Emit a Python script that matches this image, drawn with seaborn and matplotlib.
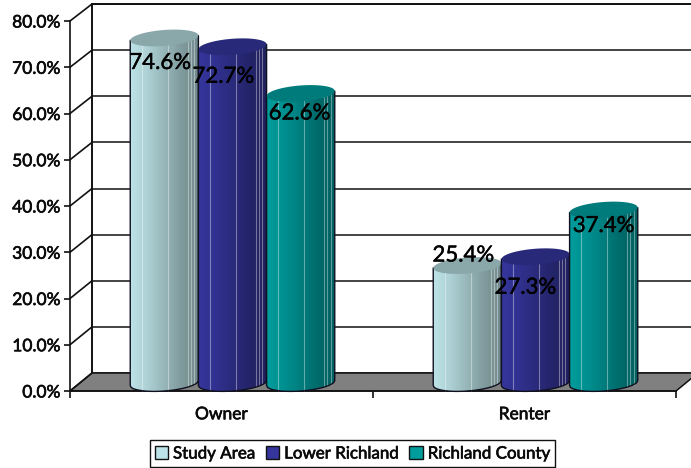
import numpy as np
import pandas as pd
import matplotlib
matplotlib.use("Agg")
import matplotlib.pyplot as plt
import matplotlib.patheffects as pe
import seaborn as sns
from matplotlib.colors import LinearSegmentedColormap, to_rgb
from matplotlib.patches import ConnectionPatch, Polygon, Rectangle
from matplotlib.path import Path
from matplotlib.ticker import FuncFormatter

# Housing tenure shares, in percent
tenure = ["Owner", "Renter"]
areas = ["Study Area", "Lower Richland", "Richland County"]
study_area = [74.6, 25.4]
lower_richland = [72.7, 27.3]
richland_county = [62.6, 37.4]

colors = ["#BCE3E7", "#35359C", "#009C9C"]
cap_colors = ["#8AA7AA", "#29297A", "#007B7B"]

# Pixel nudges of the value labels relative to each column's top centre,
# ordered by series, then tenure
label_nudges = [(-4, -25), (-4, 10), (-9, -30), (-10, -31), (-1, -20), (0, -16)]

W, H = 691, 468
sns.set_theme(style="white")
plt.rcParams["font.family"] = ["Lato", "DejaVu Sans"]

fig = plt.figure(figsize=(W / 100, H / 100), dpi=100, facecolor="white")
HEAVY = [pe.withStroke(linewidth=0.45, foreground="#0A0A0A")]


def axes_px(left, top, right, bottom):
    return fig.add_axes([left / W, 1 - bottom / H, (right - left) / W, (bottom - top) / H])


# Back wall, front scale and the plane through the column axes
back = axes_px(92, 4, 698, 373)
front = axes_px(70, 21, 676, 391)
plane = axes_px(81, 13, 687, 383)
back.set_zorder(0)
front.set_zorder(2)
plane.set_zorder(3)
LINE = "#111111"

for ax in (back, front, plane):
    ax.set_xlim(-0.5, 1.5)
    ax.set_ylim(0, 80)

back.set_xticks([])
back.set_yticks(np.arange(0, 81, 10))
back.tick_params(left=False, labelleft=False)
back.grid(axis="y", color=LINE, lw=1.1)
for side, spine in back.spines.items():
    spine.set_visible(side in ("left", "top"))
    spine.set_color(LINE)
    spine.set_linewidth(1.4)

front.patch.set_alpha(0)
for side, spine in front.spines.items():
    spine.set_visible(side in ("left", "bottom"))
    spine.set_color(LINE)
    spine.set_linewidth(1.2)
front.set_yticks(np.arange(0, 81, 10))
front.yaxis.set_major_formatter(FuncFormatter(lambda v, _: f"{v:.1f}%"))
front.set_xticks([0, 1], tenure)
front.set_xticks([-0.5, 0.5, 1.5], minor=True)
front.tick_params(axis="y", left=True, length=4, width=1.2, color=LINE, pad=3,
                  labelsize=12.5, labelcolor="#0A0A0A")
front.tick_params(axis="x", which="major", bottom=False, pad=5, labelsize=12.5,
                  labelcolor="#0A0A0A")
front.tick_params(axis="x", which="minor", bottom=True, length=5, width=1.2, color=LINE)
for label in front.get_xticklabels() + front.get_yticklabels():
    label.set_path_effects(HEAVY)

# Grey floor between the front axis and the back wall
fp, bp = front.get_position(), back.get_position()
fig.add_artist(Polygon([(fp.x0, fp.y0), (bp.x0, bp.y0), (bp.x1, bp.y0), (fp.x1, fp.y0)],
                       closed=True, transform=fig.transFigure, facecolor="#808080",
                       edgecolor=LINE, lw=1.1, zorder=1))

# Slanted ticks joining the scale to the wall
for v in np.arange(0, 81, 10):
    fig.add_artist(ConnectionPatch(xyA=(0, v), coordsA=front.get_yaxis_transform(),
                                   xyB=(0, v), coordsB=back.get_yaxis_transform(),
                                   color=LINE, lw=1.2, zorder=1.5))

frame = pd.DataFrame({
    "tenure": tenure * 3,
    "area": np.repeat(areas, 2),
    "share": study_area + lower_richland + richland_county,
})
sns.barplot(data=frame, x="tenure", y="share", hue="area", hue_order=areas,
            palette=colors, width=0.675, gap=0, saturation=1, legend=False, ax=plane)
plane.set_xlim(-0.5, 1.5)
plane.set_ylim(0, 80)
plane.axis("off")

PX = 80 / 370
ELL = 8 * PX
TILT = 2.5 * PX
RIBS = [0.17, 0.55, 0.84, 0.89, 0.94]


def cylinder_shade(color):
    c = np.array(to_rgb(color))
    return LinearSegmentedColormap.from_list(
        "cyl", [c, c * 0.92, c * 0.80, c * 0.68, c * 0.60])


bars = [b for b in plane.patches if b.get_height() > 0]
values = study_area + lower_richland + richland_county
for i, bar in enumerate(bars):
    series = i // 2
    x0, w, h = bar.get_x(), bar.get_width(), bar.get_height()
    x1 = x0 + w
    t = np.linspace(-1, 1, 80)
    xs = x0 + (t + 1) / 2 * w
    arc = ELL * np.sqrt(1 - t ** 2)
    tilt = TILT * t

    # Column body: straight top edge, rounded foot
    body = np.vstack([np.column_stack([xs, tilt - arc]),
                      np.column_stack([xs[::-1], h + tilt[::-1]])])
    body_path = Path(np.vstack([body, body[0]]), closed=True)
    z = 3 + series * 0.5 + i % 2 * 0.01
    bar.set_visible(False)
    im = plane.imshow(np.linspace(0, 1, 256)[None, :], extent=[x0, x1, -ELL - TILT, h + TILT],
                      cmap=cylinder_shade(colors[series]), aspect="auto", zorder=z,
                      interpolation="bilinear")
    # The rounded foot hangs below the zero line, outside the axes box
    im.set_clip_box(fig.bbox)
    im.set_clip_path(body_path, transform=plane.transData)

    for r in RIBS:
        foot = np.interp(x0 + r * w, xs, tilt - arc)
        plane.vlines(x0 + r * w, foot, h, colors="white", alpha=0.38, lw=0.8, zorder=z + 0.01,
                     clip_on=False)
    plane.add_patch(Polygon(body, closed=True, facecolor="none", edgecolor="#101020",
                            lw=1.0, zorder=z + 0.02, clip_on=False))

    # Elliptical cap
    cap = np.vstack([np.column_stack([xs, h + tilt + arc]),
                     np.column_stack([xs[::-1], h + tilt[::-1] - arc[::-1]])])
    plane.add_patch(Polygon(cap, closed=True, facecolor=cap_colors[series], edgecolor="none",
                            zorder=z + 0.03, clip_on=False))

    dx, dy = label_nudges[i]
    plane.annotate(f"{values[i]:.1f}%", xy=(x0 + w / 2, h), xytext=(dx, dy),
                   textcoords="offset pixels", ha="center", va="center",
                   fontsize=16, color="black", zorder=10, annotation_clip=False,
                   path_effects=[pe.withStroke(linewidth=0.3, foreground="black")])
plane.set_xlim(-0.5, 1.5)
plane.set_ylim(0, 80)

handles = [Rectangle((0, 0), 1, 1, facecolor=c, edgecolor="#111111", lw=1.0) for c in colors]
legend = fig.legend(handles, areas, loc="center", bbox_to_anchor=(352.5 / W, 1 - 453.5 / H),
                    ncol=3, frameon=True, fancybox=False, edgecolor="#111111", framealpha=1,
                    fontsize=12.2, handlelength=0.8, handleheight=0.8, handletextpad=0.28,
                    columnspacing=0.62, borderpad=0.3, labelcolor="#0A0A0A")
legend.get_frame().set_linewidth(1.0)
for text in legend.get_texts():
    text.set_path_effects(HEAVY)

fig.savefig("out.png", dpi=100)
